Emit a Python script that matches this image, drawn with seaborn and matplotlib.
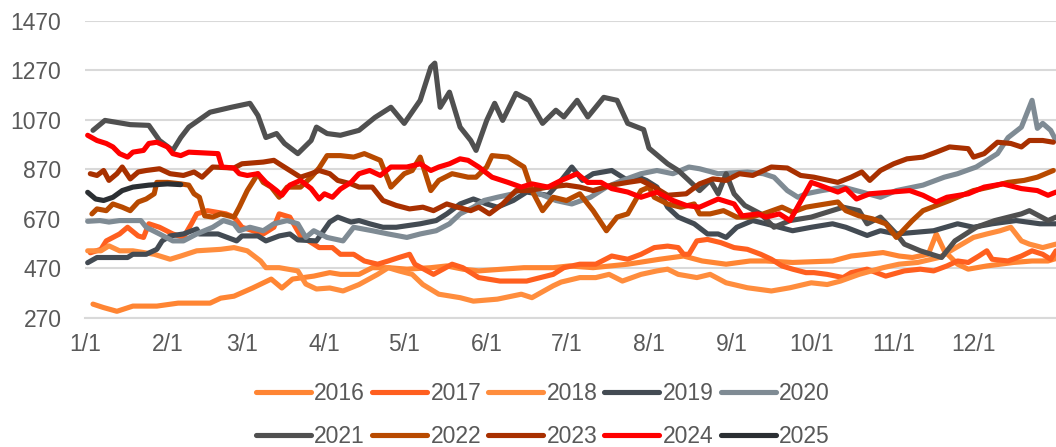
import numpy as np
import pandas as pd
import matplotlib
matplotlib.use('Agg')
import matplotlib.pyplot as plt
import seaborn as sns

# Datos (día del año, valor)
DAYS_2016 = [3, 7, 12, 18, 27, 35, 47, 51, 56, 63, 70, 74, 78, 86, 92, 96, 103, 108, 114, 121,
             130, 136, 142, 148, 157, 165, 176, 182, 191, 204, 216, 225, 232, 241, 250, 256, 266,
             281, 288, 300, 306, 311, 317, 320, 323, 328, 332, 339, 349, 356, 362, 365]
VALS_2016 = [326, 312, 297, 318, 318, 330, 330, 350, 358, 391, 427, 391, 427, 439, 453, 446, 446,
             473, 473, 467, 473, 480, 467, 460, 467, 473, 473, 480, 473, 487, 507, 520, 500, 487,
             500, 500, 494, 500, 520, 534, 520, 514, 527, 609, 541, 487, 467, 480, 494, 500, 500, 510]

DAYS_2017 = [2, 6, 8, 13, 16, 20, 22, 24, 28, 33, 37, 40, 42, 46, 53, 56, 59, 67, 71, 73, 77, 81,
             86, 88, 93, 96, 101, 105, 110, 114, 118, 122, 124, 131, 138, 142, 148, 156, 166, 176,
             180, 186, 192, 198, 204, 209, 214, 219, 223, 225, 227, 230, 234, 239, 244, 249, 254,
             258, 262, 266, 271, 274, 279, 285, 288, 294, 301, 308, 314, 319, 324, 328, 332, 336,
             339, 341, 347, 352, 356, 360, 363, 365]
VALS_2017 = [533, 547, 581, 609, 636, 601, 595, 650, 636, 609, 595, 650, 690, 703, 690, 677, 636,
             609, 636, 690, 677, 601, 568, 554, 554, 527, 527, 500, 487, 500, 514, 527, 487, 446,
             487, 473, 433, 419, 419, 446, 473, 487, 487, 520, 507, 527, 554, 560, 554, 527, 527,
             581, 587, 574, 554, 547, 527, 507, 480, 467, 453, 453, 446, 433, 453, 467, 439, 460,
             467, 460, 480, 500, 494, 520, 541, 507, 500, 520, 541, 527, 507, 541]

DAYS_2018 = [1, 6, 9, 13, 18, 26, 32, 36, 42, 51, 56, 61, 66, 68, 73, 80, 83, 87, 92, 97, 103, 110,
             114, 118, 123, 127, 133, 141, 146, 155, 164, 168, 176, 179, 186, 192, 197, 202, 209,
             215, 219, 223, 230, 235, 241, 249, 258, 265, 273, 279, 284, 291, 300, 306, 313, 321,
             334, 339, 344, 348, 352, 355, 360, 365]
VALS_2018 = [541, 541, 561, 541, 541, 527, 507, 520, 541, 547, 554, 541, 500, 473, 473, 460, 407,
             387, 391, 379, 405, 446, 473, 460, 446, 405, 366, 352, 338, 346, 366, 352, 400, 415,
             433, 433, 446, 419, 446, 460, 467, 446, 433, 446, 412, 392, 379, 392, 412, 405, 419,
             446, 473, 487, 494, 514, 595, 609, 622, 636, 581, 568, 554, 568]

DAYS_2019 = [1, 4.5, 16, 18, 23, 27, 29, 32, 37, 42, 43, 50, 57, 59, 65, 68, 73, 77, 80, 87, 92,
             95, 100, 103, 107, 112, 117, 126, 132, 136, 141, 146, 151, 155, 161, 166, 174, 179,
             183, 187, 191, 198, 204, 208, 211, 215, 219, 223, 229, 234, 238, 241, 245, 251, 256,
             261, 266, 273, 281, 286, 294, 299, 305, 319, 328, 334, 341, 350, 359, 365]
VALS_2019 = [493, 514, 514, 527, 527, 547, 581, 601, 609, 629, 609, 609, 581, 601, 601, 581, 601,
             609, 585, 581, 657, 677, 657, 663, 650, 636, 636, 650, 663, 690, 730, 750, 730, 717,
             744, 778, 765, 825, 879, 825, 852, 865, 825, 838, 825, 798, 717, 677, 650, 609, 609,
             595, 636, 663, 650, 636, 622, 636, 650, 636, 603, 622, 609, 622, 650, 636, 650, 663,
             650, 650]

DAYS_2020 = [1, 5.6, 9, 13, 21, 23, 28, 33, 37, 42, 48, 52, 56, 58, 62, 67, 71, 76, 80, 83, 86,
             91, 97, 101, 108, 114, 121, 126, 132, 137, 141, 146, 150, 155, 161, 165, 171, 177,
             183, 190, 196, 202, 209, 215, 221, 227, 231, 238, 249, 255, 259, 264, 268, 271, 277,
             285, 292, 299, 305, 315, 323, 328, 335, 343, 347, 352, 356, 358, 360, 363, 365]
VALS_2020 = [660, 663, 657, 663, 663, 636, 609, 581, 581, 609, 636, 663, 650, 622, 636, 622, 650,
             663, 650, 595, 622, 595, 581, 636, 622, 609, 595, 609, 622, 650, 690, 717, 744, 757,
             771, 798, 771, 744, 730, 757, 798, 825, 852, 865, 852, 879, 872, 852, 859, 852, 838,
             784, 757, 771, 784, 798, 778, 757, 784, 806, 838, 852, 879, 933, 998, 1040, 1148,
             1035, 1055, 1027, 986]

DAYS_2021 = [3, 7.5, 17, 24, 28, 33, 36, 39, 47, 55, 62, 65, 68, 72, 75, 80, 85, 87, 91, 96, 103,
             109, 115, 120, 126, 130, 131.5, 133.5, 137, 141, 145, 147, 151, 154, 157, 162, 167,
             172, 177, 180, 185, 189, 195, 200, 204, 210, 212, 219, 223, 227, 231, 235, 238, 241,
             244, 248, 254, 259, 265, 273, 285, 291, 294, 299, 305, 308, 314, 322, 327, 335, 342,
             352, 355, 362, 365]
VALS_2021 = [1027, 1067, 1050, 1047, 986, 946, 998, 1040, 1100, 1120, 1136, 1087, 998, 1014, 974,
             933, 986, 1040, 1014, 1007, 1027, 1079, 1120, 1055, 1148, 1282, 1298, 1120, 1181,
             1040, 986, 946, 1067, 1136, 1067, 1176, 1148, 1055, 1108, 1081, 1148, 1081, 1160,
             1148, 1055, 1030, 955, 892, 865, 825, 784, 825, 771, 852, 771, 724, 690, 636, 663,
             677, 717, 703, 650, 677, 609, 568, 541, 514, 581, 636, 663, 690, 703, 663, 677]

DAYS_2022 = [2.6, 4.5, 8, 10.5, 14, 17, 20, 23, 26, 27, 31, 36, 39, 41, 43, 45, 48, 51, 56, 58, 61,
             65, 67, 70, 73, 76, 81, 85, 88, 91, 96, 101, 105, 111, 115, 120, 123, 126, 130, 133,
             138, 144, 147, 151, 153, 159, 165, 168, 172, 176, 181, 186, 191, 196, 200, 204, 209,
             212, 214, 219, 224, 229, 231, 235, 240, 245, 250, 255, 262, 266, 271, 283, 286, 291,
             296, 301, 305, 311, 315, 325, 334, 340, 347, 353, 358, 364]
VALS_2022 = [690, 710, 703, 730, 717, 703, 738, 750, 771, 817, 817, 811, 806, 771, 757, 682, 677,
             690, 677, 717, 784, 852, 817, 798, 757, 798, 798, 838, 875, 925, 925, 919, 933, 906,
             798, 852, 865, 919, 784, 825, 852, 838, 838, 879, 925, 919, 879, 784, 703, 757, 744,
             771, 703, 622, 677, 690, 784, 798, 757, 730, 717, 730, 690, 690, 703, 677, 677, 690,
             717, 697, 717, 738, 703, 682, 670, 650, 595, 663, 703, 744, 784, 798, 817, 825, 838,
             865]

DAYS_2023 = [2, 4.5, 7, 9, 12, 14, 17, 20, 23, 28, 32, 37, 41, 44, 48, 56, 59, 67, 71, 73, 77, 81,
             85, 88, 92, 95, 100, 103, 108, 112, 117, 122, 127, 131, 136, 140, 145, 148, 152, 157,
             162, 167, 174, 181, 186, 191, 198, 204, 209, 214, 219, 226, 231, 236, 241, 246, 251,
             258, 264, 269, 274, 283, 288, 292, 295, 299, 304, 309, 315, 320, 325, 332, 334, 338,
             343, 348, 352, 355, 360, 364]
VALS_2023 = [852, 845, 865, 825, 852, 879, 831, 859, 865, 872, 852, 845, 859, 838, 879, 875, 892,
             899, 906, 892, 865, 838, 852, 865, 852, 825, 811, 798, 798, 744, 724, 710, 717, 703,
             730, 717, 703, 717, 690, 730, 784, 784, 798, 806, 798, 784, 806, 817, 825, 798, 765,
             771, 811, 831, 825, 852, 845, 879, 875, 845, 838, 817, 838, 859, 825, 865, 892, 912,
             919, 939, 960, 953, 919, 933, 979, 974, 960, 986, 986, 979]

DAYS_2024 = [1, 4.5, 8, 10.5, 13, 16, 18, 22, 24, 27, 31, 33, 36, 39, 50, 51.5, 56, 58, 61, 65, 68,
             72, 74, 77, 81, 85, 88, 90, 93, 96, 100, 103, 107, 111, 115, 121, 126, 130, 133, 137,
             141, 144, 148, 153, 159, 164, 168, 174, 179, 185, 189, 194, 198, 204, 209, 215, 221,
             226, 231, 238, 244, 247, 253, 256, 261, 265, 273, 276, 283, 286, 290, 295, 303, 310,
             315, 320, 324, 332, 338, 345, 352, 358, 362, 365]
VALS_2024 = [1007, 986, 974, 960, 933, 919, 939, 946, 974, 979, 960, 933, 925, 939, 933, 879, 875,
             852, 845, 852, 817, 784, 765, 806, 825, 792, 750, 771, 757, 790, 817, 852, 865, 845,
             879, 879, 892, 865, 879, 892, 912, 906, 879, 838, 817, 798, 811, 798, 825, 852, 817,
             817, 792, 778, 757, 778, 744, 724, 717, 750, 730, 682, 690, 677, 690, 663, 817, 806,
             778, 792, 750, 771, 778, 784, 765, 738, 757, 771, 798, 811, 792, 784, 765, 778]

DAYS_2025 = [1, 4, 7, 10.5, 14, 18, 24, 31, 36]
VALS_2025 = [777, 750, 744, 757, 784, 798, 806, 811, 808]

YEARS = ['2016', '2017', '2018', '2019', '2020', '2021', '2022', '2023', '2024', '2025']
COLORS = ['#FF8533', '#FF5F1F', '#FF8D3D', '#434B53', '#7F8B94',
          '#505050', '#B84A00', '#A83000', '#FF0000', '#2B2F33']

MONTH_DAYS = [0, 31, 59, 90, 120, 151, 181, 212, 243, 273, 304, 334]
MONTH_LABELS = ['1/1', '2/1', '3/1', '4/1', '5/1', '6/1', '7/1', '8/1', '9/1', '10/1', '11/1', '12/1']

series = {
    '2016': (DAYS_2016, VALS_2016), '2017': (DAYS_2017, VALS_2017),
    '2018': (DAYS_2018, VALS_2018), '2019': (DAYS_2019, VALS_2019),
    '2020': (DAYS_2020, VALS_2020), '2021': (DAYS_2021, VALS_2021),
    '2022': (DAYS_2022, VALS_2022), '2023': (DAYS_2023, VALS_2023),
    '2024': (DAYS_2024, VALS_2024), '2025': (DAYS_2025, VALS_2025),
}
df = pd.concat([pd.DataFrame({'day': d, 'value': v, 'year': y})
                for y, (d, v) in series.items()], ignore_index=True)

sns.set_style('white')
plt.rcParams['font.family'] = ['Liberation Sans', 'DejaVu Sans']
TXT = '#595959'
GRID = '#D9D9D9'
FS = 16.5

fig = plt.figure(figsize=(10.56, 4.47), dpi=100)
ax = fig.add_axes([85 / 1056, 1 - 318 / 447, (1056 - 85) / 1056, (318 - 20.5) / 447])

sns.lineplot(data=df, x='day', y='value', hue='year', hue_order=YEARS,
             palette=dict(zip(YEARS, COLORS)), estimator=None, sort=False,
             linewidth=3.7, legend=False, ax=ax,
             solid_capstyle='round', solid_joinstyle='round')

ax.set_xlim(0, 365)
ax.set_ylim(270, 1470)
ax.set_yticks(np.arange(270, 1471, 200))
ax.set_xticks(MONTH_DAYS)
ax.set_xticklabels(MONTH_LABELS)
ax.set_xlabel('')
ax.set_ylabel('')

ax.grid(axis='y', color=GRID, linewidth=1.5)
ax.grid(axis='x', visible=False)
ax.set_axisbelow(True)
for s in ['left', 'right', 'top']:
    ax.spines[s].set_visible(False)
ax.spines['bottom'].set_color(GRID)
ax.spines['bottom'].set_linewidth(1.5)
ax.tick_params(axis='x', direction='out', length=5, width=1.5, color=GRID,
               labelsize=FS, labelcolor=TXT, pad=6)
ax.tick_params(axis='y', length=0, labelsize=FS, labelcolor=TXT, pad=17)

# Leyenda en dos filas (orden por filas)
lines = ax.get_lines()[:len(YEARS)]
order = [0, 5, 1, 6, 2, 7, 3, 8, 4, 9]
fig.legend([lines[i] for i in order], [YEARS[i] for i in order], ncol=5,
           loc='center', bbox_to_anchor=(0.514, 0.072), frameon=False,
           fontsize=FS, labelcolor=TXT, handlelength=2.4, handletextpad=0.15,
           columnspacing=0.3, labelspacing=0.85, borderpad=0)

fig.savefig('out.png', dpi=100)
